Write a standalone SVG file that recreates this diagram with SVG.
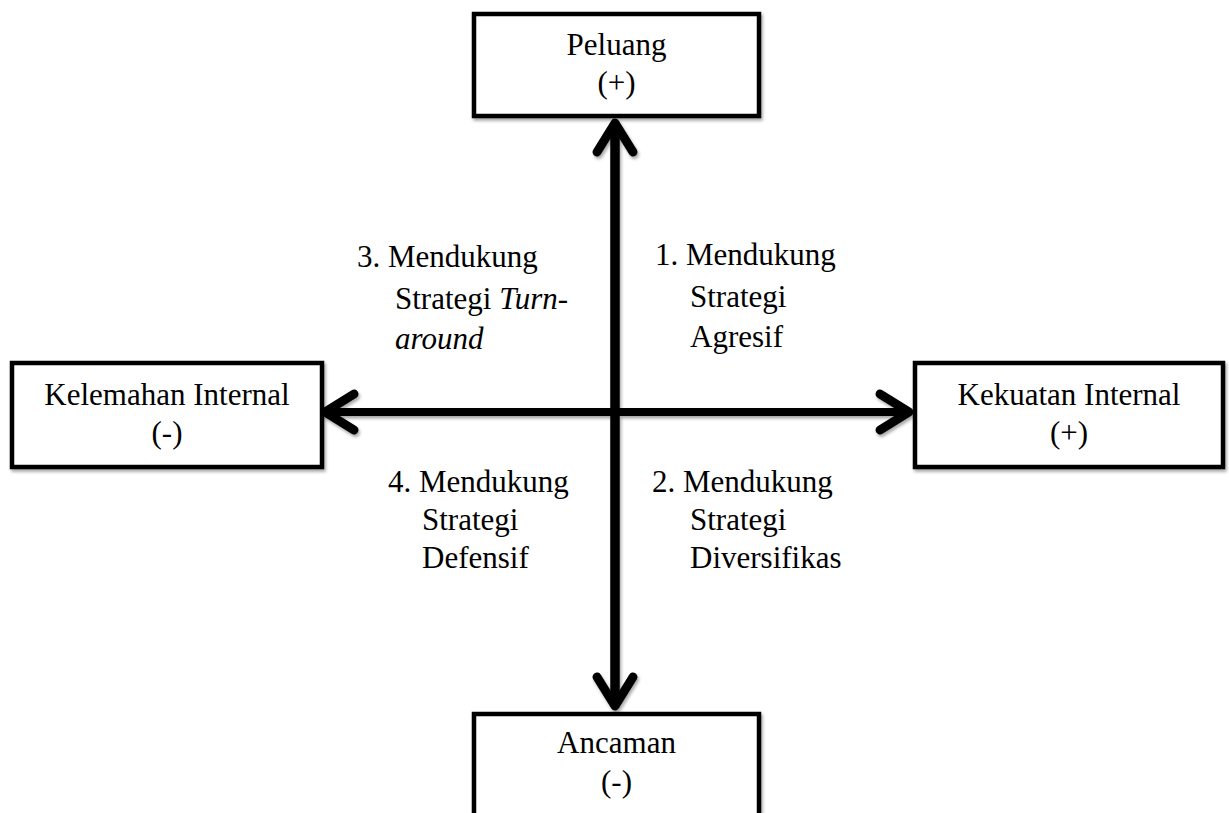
<svg xmlns="http://www.w3.org/2000/svg" width="1229" height="813" viewBox="0 0 1229 813">
  <style>
    .box { fill: #ffffff; stroke: #000000; stroke-width: 4.5; }
    .t { font-family: "Liberation Serif", "Times New Roman", serif; font-size: 31px; fill: #000000; }
    .c { text-anchor: middle; }
    .i { font-style: italic; }
    .axis { stroke: #000000; stroke-linecap: butt; fill: none; }
  </style>
  <defs>
    <filter id="sh" x="-10%" y="-10%" width="130%" height="130%">
      <feDropShadow dx="1.5" dy="2.5" stdDeviation="1.8" flood-color="#000000" flood-opacity="0.35"/>
    </filter>
    <marker id="chev" markerUnits="userSpaceOnUse" markerWidth="60" markerHeight="60" viewBox="-40 -30 50 60" refX="0" refY="0" orient="auto-start-reverse" overflow="visible">
      <path d="M -29 -18 L 0 0 L -29 18" fill="none" stroke="#000000" stroke-width="9" stroke-linecap="round" stroke-linejoin="round"/>
    </marker>
  </defs>

  <g id="connectors" filter="url(#sh)">
    <line class="axis" x1="325" y1="412" x2="909" y2="412" stroke-width="8" marker-start="url(#chev)" marker-end="url(#chev)"/>
    <line class="axis" x1="615" y1="123" x2="615" y2="706" stroke-width="9.5" marker-start="url(#chev)" marker-end="url(#chev)"/>
  </g>

  <g id="node-peluang">
    <rect class="box" x="474" y="14" width="285" height="102" filter="url(#sh)"/>
    <text class="t c" x="616.5" y="55">Peluang</text>
    <text class="t c" x="616.5" y="93">(+)</text>
  </g>

  <g id="node-kelemahan">
    <rect class="box" x="12" y="363" width="310" height="104" filter="url(#sh)"/>
    <text class="t c" x="167" y="405">Kelemahan Internal</text>
    <text class="t c" x="167" y="443">(-)</text>
  </g>

  <g id="node-kekuatan">
    <rect class="box" x="915" y="363" width="308" height="104" filter="url(#sh)"/>
    <text class="t c" x="1069" y="405">Kekuatan Internal</text>
    <text class="t c" x="1069" y="443">(+)</text>
  </g>

  <g id="node-ancaman">
    <rect class="box" x="474" y="714" width="285" height="110" filter="url(#sh)"/>
    <text class="t c" x="616.5" y="753">Ancaman</text>
    <text class="t c" x="616.5" y="792">(-)</text>
  </g>

  <g id="label-q3">
    <text class="t" x="357" y="267">3. Mendukung</text>
    <text class="t" x="395" y="309">Strategi <tspan class="i">Turn-</tspan></text>
    <text class="t i" x="395" y="349">around</text>
  </g>

  <g id="label-q1">
    <text class="t" x="655" y="265">1. Mendukung</text>
    <text class="t" x="690" y="307">Strategi</text>
    <text class="t" x="690" y="347">Agresif</text>
  </g>

  <g id="label-q4">
    <text class="t" x="388" y="492">4. Mendukung</text>
    <text class="t" x="422" y="530">Strategi</text>
    <text class="t" x="422" y="568">Defensif</text>
  </g>

  <g id="label-q2">
    <text class="t" x="652" y="492">2. Mendukung</text>
    <text class="t" x="690" y="530">Strategi</text>
    <text class="t" x="690" y="568">Diversifikas</text>
  </g>
</svg>
